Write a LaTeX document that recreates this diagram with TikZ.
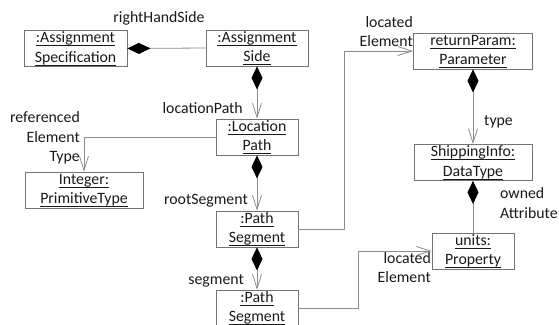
\documentclass[tikz,border=0pt]{standalone}
\usepackage{fontspec}
\setmainfont{Carlito}
\usetikzlibrary{arrows.meta}

% underline at a fixed depth, through the descenders
\newcommand{\ulline}[1]{\underline{\smash{#1}\vrule width 0pt height 11pt depth 1.2pt}}
% two underlined lines for an instance name
\newcommand{\objname}[2]{\ulline{#1}\\\ulline{#2}}

\begin{document}
\begin{tikzpicture}[x=1pt,y=-1pt,
  font=\fontsize{15.8}{19.5}\selectfont,
  instance/.style={draw=boxgray, line width=0.8pt, inner sep=0pt, align=center,
                   minimum height=36pt, text=textgray},
  role/.style={inner sep=0pt, text=textgray},
  link/.style={draw=linegray, line width=0.8pt},
  owns/.style={link, {Diamond[length=23pt,width=11pt,color=black]}-},
  ownsref/.style={link, {Diamond[length=23pt,width=11pt,color=black]}-{Straight Barb[length=14pt,width=9pt]}},
  refers/.style={link, -{Straight Barb[length=14pt,width=9pt]}}]
  \colorlet{boxgray}{black!55}
  \colorlet{linegray}{black!45}
  \colorlet{textgray}{black!90}

  \useasboundingbox (0,0) rectangle (559,324);

  %--- Instances ---
  \node[instance, minimum width=103pt] (assignSpec) at (75.5,48.5) {\objname{:Assignment}{Specification}};
  \node[instance, minimum width=102pt] (assignSide) at (257,48)   {\objname{:Assignment}{Side}};
  \node[instance, minimum width=82pt]  (locPath)    at (257,137)  {\objname{:Location}{Path}};
  \node[instance, minimum width=118pt] (intType)    at (84,190)   {\objname{Integer:}{PrimitiveType}};
  \node[instance, minimum width=82pt]  (pathSegA)   at (257,229)  {\objname{:Path}{Segment}};
  \node[instance, minimum width=82pt]  (pathSegB)   at (257,308)  {\objname{:Path}{Segment}};
  \node[instance, minimum width=119pt] (retParam)   at (473,51)   {\objname{returnParam:}{Parameter}};
  \node[instance, minimum width=118pt] (shipInfo)   at (473,162.5){\objname{ShippingInfo:}{DataType}};
  \node[instance, minimum width=82pt]  (units)      at (473,251)  {\objname{units:}{Property}};

  %--- Compositions ---
  \draw[owns]    (assignSpec.east)  -- (assignSide.west);
  \draw[ownsref] (assignSide.south) -- (locPath.north);
  \draw[ownsref] (locPath.south)    -- (pathSegA.north);
  \draw[ownsref] (pathSegA.south)   -- (pathSegB.north);
  \draw[ownsref] (retParam.south)   -- (shipInfo.north);
  \draw[owns]    (shipInfo.south)   -- (units.north);

  %--- References ---
  \draw[refers] (locPath.west) -| (intType.north);
  \draw[refers] (pathSegA.east) -- ++(46,0) |- (retParam.west);
  \draw[refers] (pathSegB.east) -- ++(60,0) |- (units.west);

  %--- Role names ---
  \node[role, anchor=base]      (rhsLbl)   at (159,23)    {rightHandSide};
  \node[role, anchor=base east] (locLbl)   at (243,113)   {locationPath};
  \node[role, anchor=east, align=right] (refLbl) at (80,138) {referenced\\Element\\Type};
  \node[role, anchor=base east] (rootLbl)  at (248,204)   {rootSegment};
  \node[role, anchor=base east] (segLbl)   at (244,284)   {segment};
  \node[role, anchor=east, align=right] (locElA) at (413,31.5)  {located\\Element};
  \node[role, anchor=base west] (typeLbl)  at (484,125)   {type};
  \node[role, anchor=west, align=left]  (ownLbl) at (500,203)   {owned\\Attribute};
  \node[role, anchor=east, align=right] (locElB) at (431,267.5) {located\\Element};

\end{tikzpicture}
\end{document}
